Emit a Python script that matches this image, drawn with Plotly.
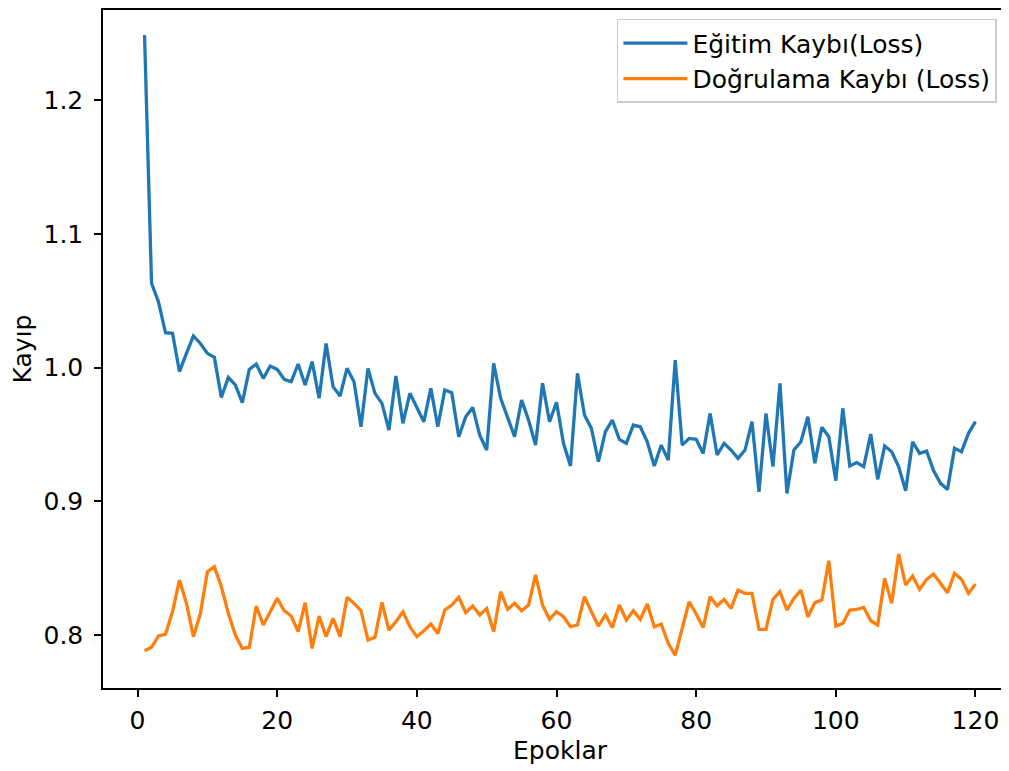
import plotly.graph_objects as go

epochs = list(range(1, 121))

train_loss = [
    1.2486, 1.063, 1.049, 1.026, 1.0256, 0.997, 1.0106, 1.0236, 1.018, 1.0106,
    1.0076, 0.9777, 0.9927, 0.987, 0.9737, 0.9986, 1.0026, 0.9919, 1.0011, 0.9986,
    0.9912, 0.9894, 1.0026, 0.987, 1.0044, 0.977, 1.018, 0.9857, 0.9787, 0.9994,
    0.9894, 0.9557, 0.9994, 0.9807, 0.9732, 0.9533, 0.9937, 0.9583, 0.9807, 0.9702,
    0.9595, 0.9844, 0.9557, 0.9832, 0.9812, 0.9483, 0.9632, 0.9702, 0.9495, 0.9383,
    1.0031, 0.977, 0.9632, 0.9483, 0.9757, 0.9607, 0.942, 0.9882, 0.9595, 0.974,
    0.9433, 0.9264, 0.9957, 0.9645, 0.9545, 0.9296, 0.952, 0.9607, 0.9463, 0.9433,
    0.957, 0.9557, 0.9445, 0.9264, 0.942, 0.9308, 1.0056, 0.942, 0.947, 0.9463,
    0.9358, 0.9657, 0.9346, 0.9433, 0.9383, 0.9321, 0.9383, 0.9595, 0.9071, 0.9657,
    0.9259, 0.9882, 0.9059, 0.9383, 0.9445, 0.9632, 0.9284, 0.9553, 0.9483, 0.9154,
    0.9695, 0.9264, 0.9289, 0.9259, 0.9503, 0.9164, 0.9413, 0.937, 0.9259, 0.9079,
    0.9445, 0.9358, 0.9376, 0.9229, 0.9134, 0.9089, 0.9396, 0.937, 0.9508, 0.9595,
]

val_loss = [
    0.7883, 0.7908, 0.7993, 0.8005, 0.8174, 0.8411, 0.8237, 0.7988, 0.8162, 0.8474,
    0.8511, 0.8361, 0.8162, 0.8, 0.79, 0.7908, 0.8217, 0.8075, 0.8174, 0.8274,
    0.8182, 0.8142, 0.8025, 0.8242, 0.79, 0.8142, 0.7988, 0.8125, 0.7988, 0.8282,
    0.8237, 0.8182, 0.7963, 0.7983, 0.8244, 0.8037, 0.81, 0.8174, 0.8062, 0.7988,
    0.8032, 0.8082, 0.8012, 0.8187, 0.8224, 0.8282, 0.8167, 0.8217, 0.815, 0.8199,
    0.8025, 0.8324, 0.8192, 0.8237, 0.8182, 0.8224, 0.8449, 0.8224, 0.8117, 0.8174,
    0.8137, 0.8062, 0.8075, 0.8287, 0.8174, 0.8067, 0.815, 0.8057, 0.8224, 0.8112,
    0.8182, 0.8117, 0.8232, 0.8062, 0.8082, 0.7938, 0.785, 0.805, 0.8249, 0.8157,
    0.8057, 0.8287, 0.8219, 0.8267, 0.8199, 0.8336, 0.8311, 0.8311, 0.8042, 0.8042,
    0.8267, 0.8324, 0.8187, 0.8274, 0.8336, 0.8137, 0.8242, 0.8262, 0.8556, 0.8067,
    0.8087, 0.8187, 0.8192, 0.8207, 0.8107, 0.8075, 0.8424, 0.8237, 0.8606, 0.8374,
    0.8441, 0.8341, 0.8416, 0.8456, 0.8386, 0.8316, 0.8461, 0.8416, 0.8311, 0.8381,
]

x_ticks = [0, 20, 40, 60, 80, 100, 120]
y_ticks = [0.8, 0.9, 1.0, 1.1, 1.2]

fig = go.Figure()
fig.add_trace(go.Scatter(x=epochs, y=train_loss, mode="lines",
                         name="Eğitim Kaybı(Loss)",
                         line=dict(color="#1f77b4", width=3.3)))
fig.add_trace(go.Scatter(x=epochs, y=val_loss, mode="lines",
                         name="Doğrulama Kaybı (Loss)",
                         line=dict(color="#ff7f0e", width=3.3)))

font = dict(family="DejaVu Sans", size=25, color="black")

# The page body adds an 8px offset; margins compensate for it.
fig.update_layout(
    width=1009, height=771,
    margin=dict(l=95, r=0, t=2, b=91, autoexpand=False),
    paper_bgcolor="white", plot_bgcolor="white",
    font=font,
    showlegend=True,
    legend=dict(x=0.978, y=0.987, xanchor="right", yanchor="top",
                bgcolor="rgba(255,255,255,0.8)", bordercolor="#cccccc",
                borderwidth=1.5, font=font,
                itemwidth=64, tracegroupgap=0),
)
fig.update_xaxes(range=[-4.95, 125.95], tickvals=x_ticks, ticks="outside",
                 ticklen=7, tickwidth=1.5, tickcolor="black",
                 showline=True, linecolor="black", linewidth=1.5, mirror=True,
                 showgrid=False, zeroline=False, automargin=False,
                 title=dict(text="Epoklar", standoff=8, font=font),
                 ticklabelstandoff=2)
fig.update_yaxes(range=[0.7604, 1.2673], tickvals=y_ticks, tickformat=".1f",
                 ticks="outside", ticklen=7, tickwidth=1.5, tickcolor="black",
                 showline=True, linecolor="black", linewidth=1.5, mirror=True,
                 showgrid=False, zeroline=False, automargin=False,
                 title=dict(text="Kayıp", standoff=15, font=font),
                 ticklabelstandoff=6)

fig.write_html("out.html")
